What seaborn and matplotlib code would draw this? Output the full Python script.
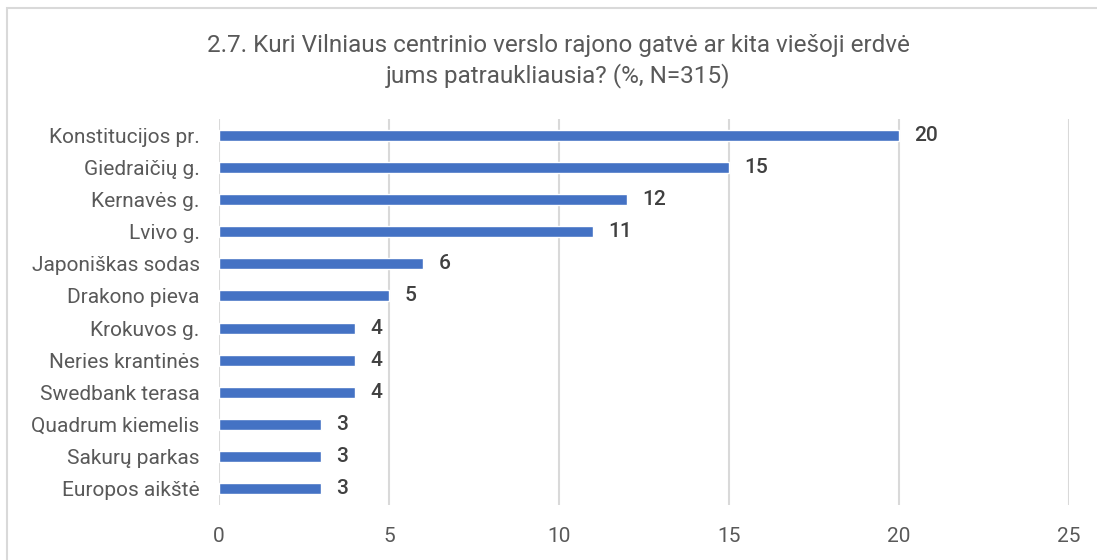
import matplotlib
matplotlib.use("Agg")
import matplotlib.pyplot as plt
import seaborn as sns
import pandas as pd
from matplotlib.patches import Rectangle

places = ["Konstitucijos pr.", "Giedraičių g.", "Kernavės g.", "Lvivo g.",
          "Japoniškas sodas", "Drakono pieva", "Krokuvos g.", "Neries krantinės",
          "Swedbank terasa", "Quadrum kiemelis", "Sakurų parkas", "Europos aikštė"]
shares = [20, 15, 12, 11, 6, 5, 4, 4, 4, 3, 3, 3]
x_ticks = [0, 5, 10, 15, 20, 25]

title = ("2.7. Kuri Vilniaus centrinio verslo rajono gatvė ar kita viešoji erdvė\n"
         "jums patraukliausia? (%, N=315)")

df = pd.DataFrame({"place": places, "share": shares})

sns.set_theme(style="white")
plt.rcParams["font.family"] = ["Roboto", "DejaVu Sans"]

fig = plt.figure(figsize=(10.97, 5.6), dpi=100)
ax = fig.add_axes([219 / 1097, 55 / 560, (1069 - 219) / 1097, (441 - 55) / 560])

sns.barplot(data=df, x="share", y="place", color="#4472C4", width=0.34,
            saturation=1, ax=ax, zorder=3)

ax.set_xlim(0, 25)
ax.set_xticks(x_ticks)
ax.grid(axis="x", color="#D9D9D9", linewidth=1.5, zorder=0)
for s in ax.spines.values():
    s.set_visible(False)
ax.set_xlabel("")
ax.set_ylabel("")
ax.tick_params(axis="x", length=0, labelsize=15, labelcolor="#595959", pad=16)
ax.tick_params(axis="y", length=0, labelsize=15, labelcolor="#595959", pad=14)

for i, v in enumerate(shares):
    ax.text(v + 0.45, i, str(v), va="center", ha="left", fontsize=15,
            fontweight="medium", color="#404040")

fig.text(0.509, 1 - 61 / 560, title, ha="center", va="center", fontsize=17.5,
         color="#595959", linespacing=1.3)

# chart frame, partly cut off at right and bottom
fig.patches.append(Rectangle((7 / 1097, -0.1), 1.2, 1 - 8 / 560 + 0.1,
                             transform=fig.transFigure, fill=False,
                             edgecolor="#D9D9D9", linewidth=1.5))

fig.savefig("out.png", dpi=100)
